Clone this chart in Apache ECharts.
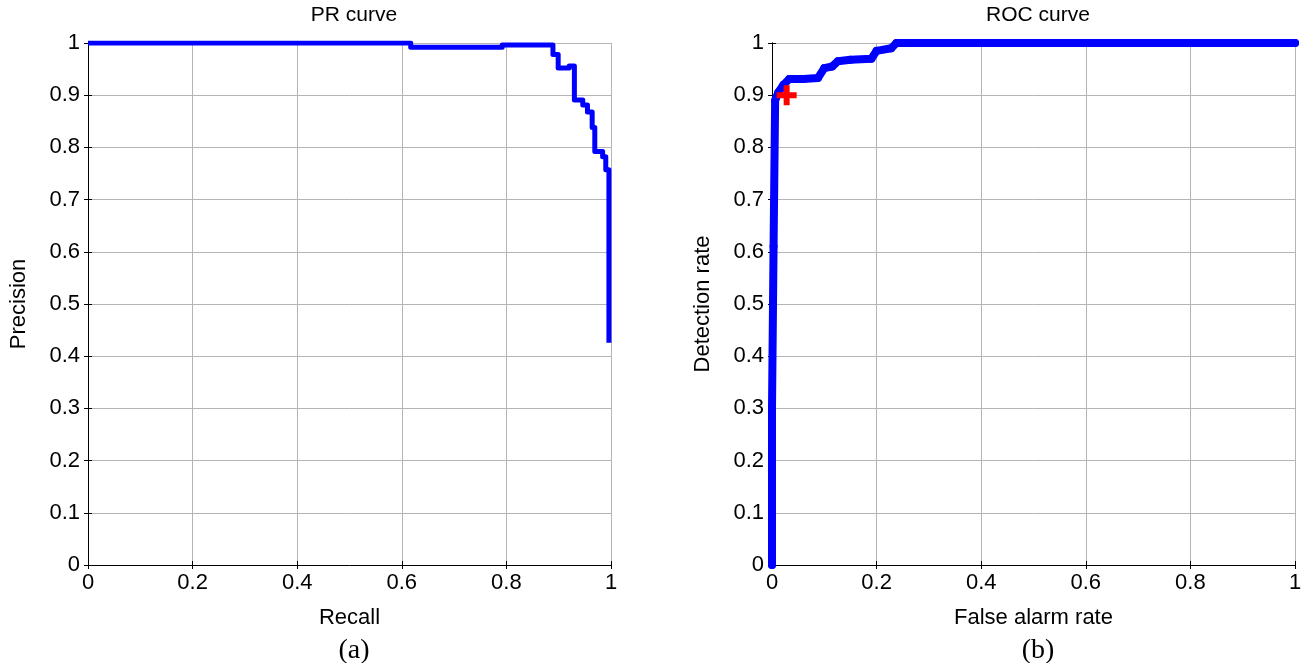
<!DOCTYPE html>
<html>
<head>
<meta charset="utf-8">
<script src="https://cdn.jsdelivr.net/npm/echarts@6/dist/echarts.min.js"></script>
<style>
html, body { margin: 0; padding: 0; background: #fff; }
#chart { width: 1307px; height: 663px; }
</style>
</head>
<body>
<div id="chart"></div>
<script>
// PR curve, staircase corners
const prRecall = [0, 0.617, 0.617, 0.792, 0.792, 0.889, 0.889, 0.899, 0.899, 0.920, 0.920, 0.930, 0.930, 0.946, 0.946, 0.955, 0.955, 0.964, 0.964, 0.969, 0.969, 0.984, 0.984, 0.990, 0.990, 0.996, 0.996];
const prPrecision = [1, 1, 0.992, 0.992, 0.996, 0.996, 0.978, 0.978, 0.952, 0.952, 0.956, 0.956, 0.891, 0.891, 0.881, 0.881, 0.868, 0.868, 0.838, 0.838, 0.792, 0.792, 0.782, 0.782, 0.757, 0.757, 0.426];

// ROC curve
const rocFpr = [0, 0, 0.003, 0.006, 0.012, 0.022, 0.033, 0.060, 0.088, 0.100, 0.115, 0.126, 0.150, 0.190, 0.200, 0.228, 0.238, 1];
const rocTpr = [0, 0.30, 0.61, 0.89, 0.905, 0.92, 0.931, 0.931, 0.933, 0.952, 0.955, 0.965, 0.968, 0.970, 0.985, 0.990, 1, 1];

// operating point
const opPoint = [0.028, 0.9];

const titles = ["PR curve", "ROC curve"];
const xNames = ["Recall", "False alarm rate"];
const yNames = ["Precision", "Detection rate"];
const captions = ["(a)", "(b)"];

const font = "'Liberation Sans', Arial, sans-serif";
const serif = "'Liberation Serif', 'Times New Roman', serif";
const grids = [
  { left: 88, top: 43, width: 523, height: 522 },
  { left: 772, top: 43, width: 523, height: 522 }
];

const zip = (a, b) => a.map((v, i) => [v, b[i]]);

function xAxes(i) {
  const base = { type: "value", gridIndex: i, min: 0, max: 1, interval: 0.2 };
  return [
    {
      ...base,
      position: "bottom",
      name: xNames[i],
      nameLocation: "middle",
      nameGap: 42,
      nameTextStyle: { fontFamily: font, fontSize: 22, color: "#000" },
      axisLine: { lineStyle: { color: "#000", width: 1 } },
      axisTick: { inside: true, length: 4, lineStyle: { color: "#000" } },
      axisLabel: { fontFamily: font, fontSize: 22, color: "#000", margin: 7 },
      splitLine: { show: true, lineStyle: { color: "#b4b4b4", width: 1 } }
    },
    {
      ...base,
      position: "top",
      axisLine: { show: i === 1, lineStyle: { color: "#000", width: 1 } },
      axisTick: { inside: true, length: 4, lineStyle: { color: "#000" } },
      axisLabel: { show: false },
      splitLine: { show: false }
    }
  ];
}

function yAxes(i) {
  const base = { type: "value", gridIndex: i, min: 0, max: 1, interval: 0.1 };
  return [
    {
      ...base,
      position: "left",
      name: yNames[i],
      nameLocation: "middle",
      nameGap: 58,
      nameRotate: 90,
      nameTextStyle: { fontFamily: font, fontSize: 22, color: "#000" },
      axisLine: { show: true, lineStyle: { color: "#000", width: 1 } },
      axisTick: { show: true, inside: true, length: 4, lineStyle: { color: "#000" } },
      axisLabel: { fontFamily: font, fontSize: 22, color: "#000", margin: 8 },
      splitLine: { show: true, lineStyle: { color: "#b4b4b4", width: 1 } }
    },
    {
      ...base,
      position: "right",
      axisLine: { show: i === 1, lineStyle: { color: "#000", width: 1 } },
      axisTick: { show: true, inside: true, length: 4, lineStyle: { color: "#000" } },
      axisLabel: { show: false },
      splitLine: { show: false }
    }
  ];
}

const chart = echarts.init(document.getElementById("chart"));
chart.setOption({
  animation: false,
  backgroundColor: "#fff",
  title: [
    { text: titles[0], left: 349, top: 0, textAlign: "center", textStyle: { fontFamily: font, fontSize: 21, fontWeight: "normal", color: "#000" } },
    { text: titles[1], left: 1033, top: 0, textAlign: "center", textStyle: { fontFamily: font, fontSize: 21, fontWeight: "normal", color: "#000" } },
    { text: captions[0], left: 349, top: 632, textAlign: "center", textStyle: { fontFamily: serif, fontSize: 28, fontWeight: "normal", color: "#000" } },
    { text: captions[1], left: 1033, top: 632, textAlign: "center", textStyle: { fontFamily: serif, fontSize: 28, fontWeight: "normal", color: "#000" } }
  ],
  grid: grids,
  xAxis: [...xAxes(0), ...xAxes(1)],
  yAxis: [...yAxes(0), ...yAxes(1)],
  series: [
    {
      name: "PR",
      type: "line",
      xAxisIndex: 0,
      yAxisIndex: 0,
      data: zip(prRecall, prPrecision),
      showSymbol: false,
      lineStyle: { color: "#0000ff", width: 5, join: "round" },
      z: 5
    },
    {
      name: "ROC",
      type: "line",
      xAxisIndex: 2,
      yAxisIndex: 2,
      data: zip(rocFpr, rocTpr),
      symbol: "circle",
      symbolSize: 8,
      showAllSymbol: true,
      itemStyle: { color: "#0000ff" },
      lineStyle: { color: "#0000ff", width: 8, join: "round", cap: "round" },
      z: 5
    },
    {
      name: "Operating point",
      type: "scatter",
      xAxisIndex: 2,
      yAxisIndex: 2,
      data: [opPoint],
      symbol: "path://M2.8,0h2.4v2.8h2.8v2.4h-2.8v2.8h-2.4v-2.8h-2.8v-2.4h2.8z",
      symbolSize: 20,
      itemStyle: { color: "#ff0000", opacity: 1 },
      z: 6
    }
  ]
});
</script>
</body>
</html>
